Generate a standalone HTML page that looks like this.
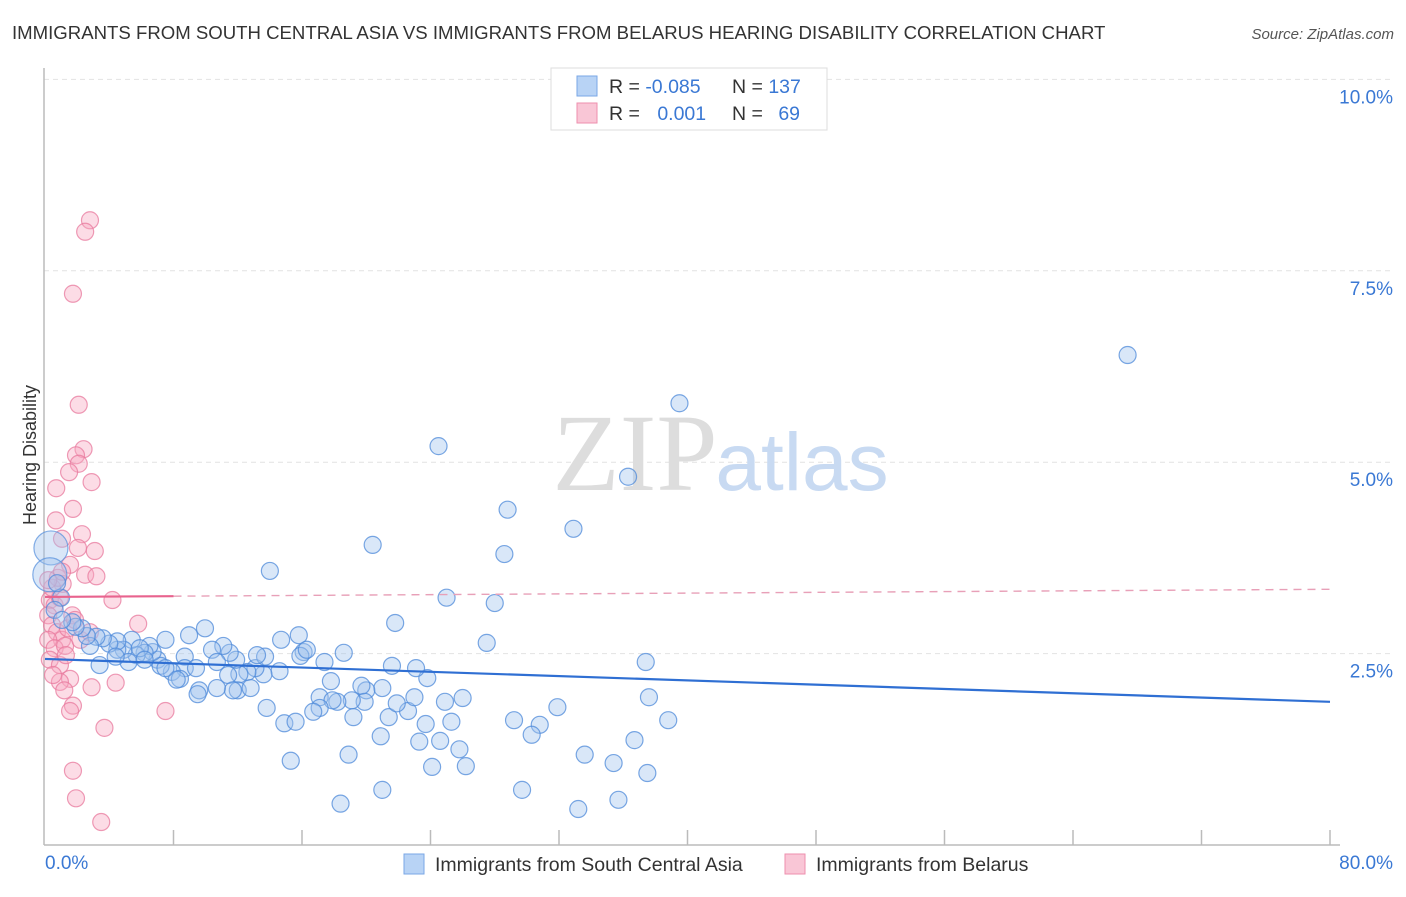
<!DOCTYPE html>
<html><head><meta charset="utf-8"><style>
body{margin:0;background:#fff;font-family:"Liberation Sans",sans-serif;}
</style></head><body>
<svg width="1406" height="892" xmlns="http://www.w3.org/2000/svg">
<text x="12" y="39" font-size="18.6" fill="#333">IMMIGRANTS FROM SOUTH CENTRAL ASIA VS IMMIGRANTS FROM BELARUS HEARING DISABILITY CORRELATION CHART</text>
<text x="1394" y="39" font-size="15" fill="#555" font-style="italic" text-anchor="end">Source: ZipAtlas.com</text>
<g id="grid"></g>
<g>
<text x="635" y="490" font-size="110" font-family="Liberation Serif" fill="#ddd" text-anchor="middle">ZIP</text>
<text x="802" y="490" font-size="82" fill="#c8daf2" text-anchor="middle">atlas</text>
</g>
<line x1="44" y1="68" x2="44" y2="845" stroke="#bbb" stroke-width="1.5"/>
<line x1="44" y1="845" x2="1340" y2="845" stroke="#bbb" stroke-width="1.5"/>
<text x="36" y="455" font-size="18" fill="#333" text-anchor="middle" transform="rotate(-90 36 455)">Hearing Disability</text>
<text x="45" y="869" font-size="19" fill="#3a78d4">0.0%</text>
<text x="1393" y="869" font-size="19" fill="#3a78d4" text-anchor="end">80.0%</text>
<g id="marks"></g>
<g>
<rect x="551" y="68" width="276" height="62" fill="#fff" stroke="#ddd"/>
<rect x="577" y="76" width="20" height="20" fill="#b8d3f5" stroke="#7aa7e6"/>
<rect x="577" y="103" width="20" height="20" fill="#f9c6d6" stroke="#ee8fae"/>
<text x="609" y="93" font-size="19.5" fill="#333">R = <tspan fill="#3a78d4">-0.085</tspan></text>
<text x="732" y="93" font-size="19.5" fill="#333">N = <tspan fill="#3a78d4">137</tspan></text>
<text x="609" y="120" font-size="19.5" fill="#333">R = <tspan fill="#3a78d4" dx="12">0.001</tspan></text>
<text x="732" y="120" font-size="19.5" fill="#333">N = <tspan fill="#3a78d4" dx="10">69</tspan></text>
</g>
<g>
<rect x="404" y="854" width="20" height="20" fill="#b8d3f5" stroke="#7aa7e6"/>
<text x="435" y="871" font-size="19.5" fill="#333">Immigrants from South Central Asia</text>
<rect x="785" y="854" width="20" height="20" fill="#f9c6d6" stroke="#ee8fae"/>
<text x="816" y="871" font-size="19.5" fill="#333">Immigrants from Belarus</text>
</g>
</svg>
<script>
const yTicks=[2.5,5.0,7.5,10.0];
const xTickVals=[8,16,24,32,40,48,56,64,72,80];
const blueX=[67.4,39.5,24.5,36.3,28.8,32.9,20.4,28.6,14.0,25.0,28.0,21.8,27.5,37.4,37.6,38.8,36.7,37.5,35.4,33.6,35.7,33.2,29.7,24.1,26.2,25.8,23.3,25.3,23.7,24.6,21.0,18.4,18.9,15.3,20.9,21.4,22.6,21.9,23.0,24.9,26.0,29.2,30.8,30.3,31.9,23.8,23.1,21.6,21.0,20.0,19.7,19.9,19.1,18.2,17.1,17.8,17.4,18.6,17.9,17.1,16.7,19.2,14.9,15.6,13.8,14.6,13.6,13.1,12.6,12.1,12.0,12.8,13.7,13.2,14.7,15.8,16.1,15.9,16.3,11.9,11.5,11.1,10.4,10.7,11.4,11.7,10.7,9.6,9.5,9.96,8.97,8.7,8.7,9.4,7.9,8.4,8.2,7.5,7.0,7.2,6.7,6.5,6.2,5.7,5.4,4.9,4.5,4.5,4.0,3.6,3.4,3.2,2.8,2.6,2.3,1.9,1.7,1.0,0.75,0.6,1.06,5.2,4.4,5.9,7.5,6.2];
const blueY=[6.4,5.77,5.21,4.81,4.38,4.13,3.92,3.80,3.58,3.23,3.16,2.90,2.64,2.39,1.93,1.63,1.37,0.94,1.07,1.18,0.59,0.47,0.72,1.02,1.03,1.25,1.35,1.61,1.58,1.36,0.72,0.54,1.18,1.10,1.42,1.67,1.75,1.85,1.93,1.87,1.92,1.63,1.57,1.44,1.80,2.18,2.31,2.34,2.05,2.02,2.08,1.87,1.89,1.87,1.93,2.14,2.39,2.51,1.89,1.79,1.74,1.67,1.59,1.61,1.79,2.27,2.23,2.31,2.26,2.23,2.02,2.05,2.46,2.48,2.68,2.74,2.52,2.47,2.55,2.42,2.51,2.60,2.55,2.39,2.22,2.02,2.05,2.02,1.97,2.83,2.74,2.46,2.31,2.31,2.26,2.17,2.16,2.68,2.42,2.34,2.52,2.60,2.51,2.48,2.68,2.55,2.55,2.66,2.63,2.70,2.35,2.72,2.60,2.73,2.83,2.85,2.91,3.23,3.42,3.07,2.94,2.39,2.46,2.57,2.31,2.42];
const blueBigX=[0.37,0.3];
const blueBigY=[3.88,3.53];
const pinkX=[2.8,2.5,1.74,2.1,2.4,1.93,2.1,1.5,2.9,0.7,1.74,0.68,2.3,1.06,2.05,3.1,1.56,2.5,3.2,1.1,4.2,5.8,7.5,3.7,2.9,4.4,1.56,0.93,1.74,1.56,1.74,1.93,3.5,0.3,0.6,0.93,0.2,0.44,0.75,1.06,0.2,0.6,1.25,1.43,1.7,0.3,0.93,1.3,0.44,0.8,1.06,0.2,2.2,1.87,2.8,0.5,1.2];
const pinkY=[8.16,8.01,7.2,5.75,5.17,5.09,4.98,4.87,4.74,4.66,4.39,4.24,4.06,4.0,3.88,3.84,3.66,3.53,3.51,3.41,3.2,2.89,1.75,1.53,2.06,2.12,2.17,2.13,1.82,1.75,0.97,0.61,0.30,3.2,3.13,3.23,3.0,2.87,2.78,2.68,2.68,2.57,2.6,2.83,3.0,2.42,2.35,2.48,3.36,3.49,3.57,3.46,2.68,2.94,2.78,2.22,2.02];
const blueTrend=[2.43,1.87];
const pinkTrend=[3.24,3.34];
const pinkSolidEnd=8;
const NS="http://www.w3.org/2000/svg";
const sx=v=>45+v*(1285/80);
const sy=v=>845-v*76.56;
const grid=document.getElementById('grid'), marks=document.getElementById('marks');
function mk(tag,attrs,parent){const e=document.createElementNS(NS,tag);for(const k in attrs)e.setAttribute(k,attrs[k]);parent.appendChild(e);return e;}
yTicks.forEach(t=>{
  const l=mk('line',{x1:44,x2:1394,y1:sy(t),y2:sy(t),stroke:'#e2e2e2','stroke-dasharray':'5,4'},grid);
  
  
  const tx=mk('text',{x:1393,y:sy(t)+24,'font-size':19,fill:'#3a78d4','text-anchor':'end'},grid);
  tx.textContent=t.toFixed(1)+'%';
  
  
});
xTickVals.forEach(t=>{
  const l=mk('line',{x1:sx(t),x2:sx(t),y1:830,y2:845,stroke:'#bbb','stroke-width':1.5},grid);
  
  
});
function dots(xs,ys,r,fill,stroke,name){
  xs.forEach((x,i)=>{
    const c=mk('circle',{cx:sx(x),cy:sy(ys[i]),r:r,fill:fill,'fill-opacity':0.4,stroke:stroke,'stroke-opacity':0.75,'stroke-width':1.2},marks);
    
    
  });
}
dots(pinkX,pinkY,8.5,'#f7a8c0','#e8799d','pink-point');
dots(blueBigX,blueBigY,17,'#9fc2ee','#5b93dd','blue-point-large');
dots(blueX,blueY,8.5,'#9fc2ee','#4d8ad9','blue-point');
const bt=mk('line',{x1:sx(0),y1:sy(blueTrend[0]),x2:sx(80),y2:sy(blueTrend[1]),stroke:'#2f6fd3','stroke-width':2.2},marks);


const pm=pinkTrend[0]+(pinkTrend[1]-pinkTrend[0])*pinkSolidEnd/80;
const ps=mk('line',{x1:sx(0),y1:sy(pinkTrend[0]),x2:sx(pinkSolidEnd),y2:sy(pm),stroke:'#e8638e','stroke-width':2.2},marks);


const pd=mk('line',{x1:sx(pinkSolidEnd),y1:sy(pm),x2:sx(80),y2:sy(pinkTrend[1]),stroke:'#e8a0b8','stroke-width':1.4,'stroke-dasharray':'8,6'},marks);


</script>
</body></html>
